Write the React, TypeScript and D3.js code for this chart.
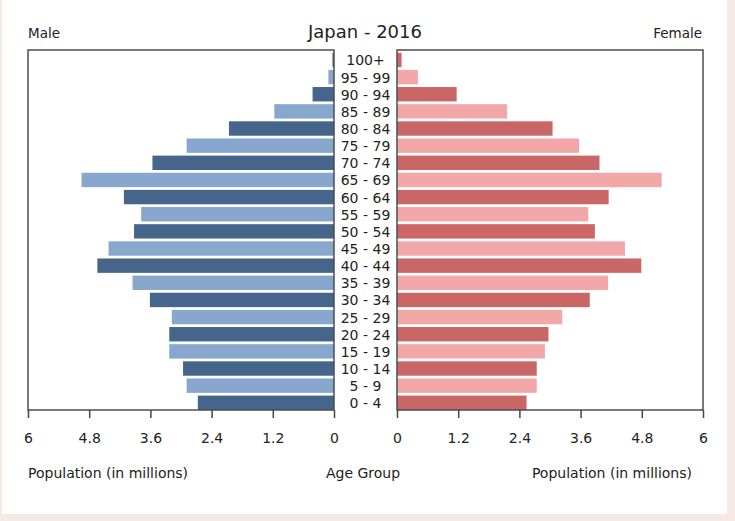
import React, { useRef, useEffect } from 'react';
import * as d3 from 'd3';

const ageGroups = ['0 - 4', '5 - 9', '10 - 14', '15 - 19', '20 - 24', '25 - 29', '30 - 34', '35 - 39', '40 - 44', '45 - 49',
  '50 - 54', '55 - 59', '60 - 64', '65 - 69', '70 - 74', '75 - 79', '80 - 84', '85 - 89', '90 - 94', '95 - 99', '100+'];
const male = [2.67, 2.89, 2.96, 3.23, 3.23, 3.18, 3.61, 3.95, 4.64, 4.42, 3.92, 3.78, 4.12, 4.95, 3.56, 2.89, 2.06, 1.17, 0.42, 0.11, 0.03];
const female = [2.54, 2.74, 2.74, 2.9, 2.97, 3.24, 3.78, 4.14, 4.79, 4.47, 3.88, 3.75, 4.15, 5.19, 3.97, 3.57, 3.05, 2.16, 1.17, 0.41, 0.09];
const tickValues = [0, 1.2, 2.4, 3.6, 4.8, 6];

const W = 735;
const H = 521;
const FONT = '"DejaVu Sans", sans-serif';
const TEXT = '#222';

const App = () => {
  const leftAxisRef = useRef<SVGGElement | null>(null);
  const rightAxisRef = useRef<SVGGElement | null>(null);

  const top = 50, bottom = 410;
  const xLeft = d3.scaleLinear().domain([0, 6]).range([334, 28]);
  const xRight = d3.scaleLinear().domain([0, 6]).range([397, 703]);
  const y = d3.scaleBand<string>()
    .domain([...ageGroups].reverse())
    .range([top, bottom])
    .paddingInner(0.16)
    .paddingOuter(0.08)
    .align(1);

  useEffect(() => {
    const fmt = (d: d3.NumberValue) => String(d);
    [[leftAxisRef.current, xLeft], [rightAxisRef.current, xRight]].forEach(([node, sc]: any) => {
      if (!node) return;
      const g = d3.select(node);
      g.selectAll('*').remove();
      g.call(d3.axisBottom(sc).tickValues(tickValues).tickFormat(fmt).tickSize(8).tickSizeOuter(0).tickPadding(15));
      g.select('.domain').remove();
      g.selectAll('line').attr('stroke', '#444').attr('stroke-width', 1.5);
      g.selectAll('text').attr('fill', TEXT).style('font-size', '14px').style('font-family', FONT);
    });
  }, []);

  const isDark = (i: number) => i % 2 === 0;

  return (
    <svg width={W} height={H} style={{ position: 'absolute', left: 0, top: 0 }} fontFamily={FONT}>
      <rect x={0} y={0} width={W} height={H} fill="#f6e8e4" />
      <rect x={2} y={0} width={725} height={514} fill="#ffffff" />

      {/* panels */}
      <rect x={28} y={top} width={306} height={bottom - top} fill="#fff" />
      <rect x={397} y={top} width={306} height={bottom - top} fill="#fff" />

      {ageGroups.map((a, i) => (
        <rect key={'m' + a} x={xLeft(male[i])} y={y(a)} width={xLeft(0) - xLeft(male[i])} height={y.bandwidth()}
          fill={isDark(i) ? '#46658b' : '#87a7cd'} />
      ))}
      {ageGroups.map((a, i) => (
        <rect key={'f' + a} x={xRight(0)} y={y(a)} width={xRight(female[i]) - xRight(0)} height={y.bandwidth()}
          fill={isDark(i) ? '#cb6666' : '#f2a8a8'} />
      ))}

      <rect x={28} y={top} width={306} height={bottom - top} fill="none" stroke="#4d4d4d" strokeWidth={1.5} />
      <rect x={397} y={top} width={306} height={bottom - top} fill="none" stroke="#4d4d4d" strokeWidth={1.5} />

      {ageGroups.map(a => (
        <text key={'l' + a} x={365.5} y={(y(a) ?? 0) + y.bandwidth() / 2 + 5.5} textAnchor="middle" fontSize={14} fill={TEXT}>{a}</text>
      ))}

      <g ref={leftAxisRef} transform={`translate(0,${bottom})`} />
      <g ref={rightAxisRef} transform={`translate(0,${bottom})`} />

      <text x={365} y={38} textAnchor="middle" fontSize={18} fill={TEXT}>Japan - 2016</text>
      <text x={28} y={38} fontSize={13.5} fill={TEXT}>Male</text>
      <text x={702} y={38} textAnchor="end" fontSize={13.5} fill={TEXT}>Female</text>

      <text x={28} y={478} fontSize={14} fill={TEXT}>Population (in millions)</text>
      <text x={363} y={478} textAnchor="middle" fontSize={14} fill={TEXT}>Age Group</text>
      <text x={692} y={478} textAnchor="end" fontSize={14} fill={TEXT}>Population (in millions)</text>
    </svg>
  );
};

export default App;
